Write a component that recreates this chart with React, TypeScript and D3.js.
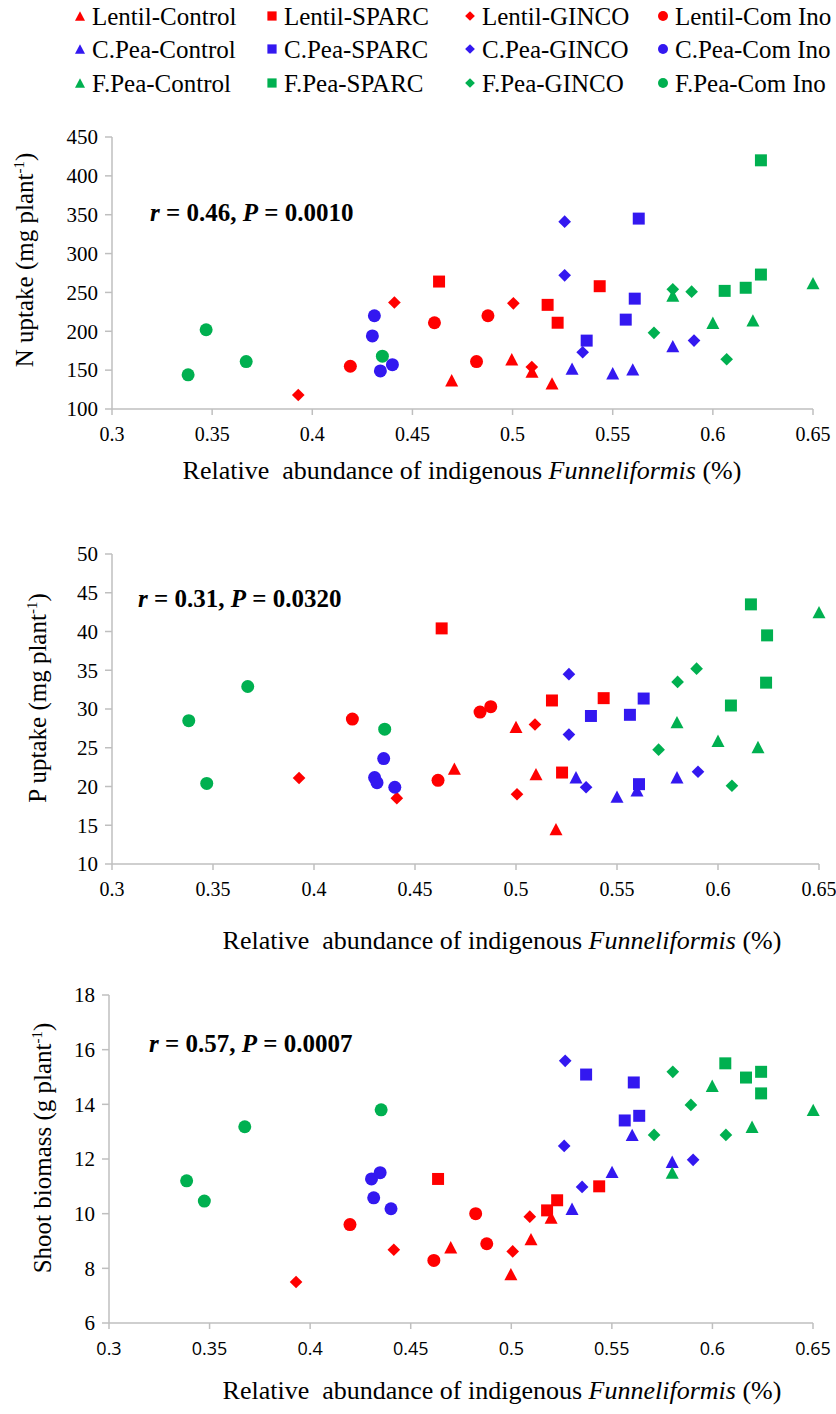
import React from "react";
import * as d3 from "d3";

// ---------- DATA ----------
const SERIES = [
  "Lentil-Control", "Lentil-SPARC", "Lentil-GINCO", "Lentil-Com Ino",
  "C.Pea-Control", "C.Pea-SPARC", "C.Pea-GINCO", "C.Pea-Com Ino",
  "F.Pea-Control", "F.Pea-SPARC", "F.Pea-GINCO", "F.Pea-Com Ino",
];
const CROP_COLORS = { Lentil: "#FF0000", "C.Pea": "#3318F0", "F.Pea": "#00B050" };
const TREATMENT_SHAPES = { Control: "triangle", SPARC: "square", GINCO: "diamond", "Com Ino": "circle" };

const X_TICKS = [0.3, 0.35, 0.4, 0.45, 0.5, 0.55, 0.6, 0.65];
const N_TICKS = [100, 150, 200, 250, 300, 350, 400, 450];
const P_TICKS = [10, 15, 20, 25, 30, 35, 40, 45, 50];
const B_TICKS = [6, 8, 10, 12, 14, 16, 18];

// N uptake (mg plant-1) vs relative abundance
const N_UPTAKE: [number, number][][] = [
  [[0.4696, 137], [0.4996, 164], [0.5097, 148], [0.5197, 133]],
  [[0.4633, 264], [0.5175, 234], [0.5225, 211], [0.5435, 258]],
  [[0.393, 118], [0.441, 237], [0.5004, 236], [0.5096, 154]],
  [[0.419, 155], [0.461, 211], [0.482, 161], [0.4877, 220]],
  [[0.5297, 152], [0.55, 146], [0.56, 151], [0.58, 181]],
  [[0.537, 188], [0.5565, 215], [0.561, 242], [0.563, 345]],
  [[0.526, 341], [0.526, 272], [0.535, 173], [0.5906, 188]],
  [[0.431, 220], [0.43, 194], [0.434, 149], [0.44, 157]],
  [[0.58, 246], [0.6, 211], [0.62, 214], [0.65, 262]],
  [[0.6059, 252], [0.6164, 256], [0.624, 273], [0.624, 420]],
  [[0.5706, 198], [0.58, 254], [0.5894, 251], [0.6069, 164]],
  [[0.338, 144], [0.347, 202], [0.367, 161], [0.435, 168]],
];

// P uptake (mg plant-1)
const P_UPTAKE: [number, number][][] = [
  [[0.4695, 22.3], [0.5, 27.7], [0.5099, 21.6], [0.5198, 14.5]],
  [[0.4632, 40.4], [0.5178, 31.1], [0.5228, 21.8], [0.5434, 31.4]],
  [[0.3926, 21.1], [0.441, 18.5], [0.5005, 19.0], [0.5094, 28.0]],
  [[0.419, 28.7], [0.4614, 20.8], [0.4822, 29.6], [0.4875, 30.3]],
  [[0.5297, 21.2], [0.55, 18.7], [0.5599, 19.5], [0.5797, 21.2]],
  [[0.5371, 29.1], [0.5564, 29.25], [0.5609, 20.3], [0.5632, 31.35]],
  [[0.5262, 34.5], [0.5262, 26.7], [0.5347, 19.9], [0.5901, 21.9]],
  [[0.43, 21.15], [0.4312, 20.5], [0.4345, 23.6], [0.44, 19.9]],
  [[0.5797, 28.3], [0.6, 25.9], [0.6198, 25.1], [0.65, 42.5]],
  [[0.6064, 30.45], [0.6163, 43.5], [0.6238, 33.4], [0.6243, 39.5]],
  [[0.5706, 24.75], [0.58, 33.5], [0.5894, 35.2], [0.6069, 20.1]],
  [[0.338, 28.5], [0.3469, 20.4], [0.3672, 32.9], [0.435, 27.4]],
];

// Shoot biomass (g plant-1)
const SHOOT_BIOMASS: [number, number][][] = [
  [[0.4699, 8.77], [0.4998, 7.79], [0.5098, 9.07], [0.5198, 9.86]],
  [[0.4636, 11.27], [0.5178, 10.12], [0.5228, 10.49], [0.5437, 11.0]],
  [[0.393, 7.5], [0.4416, 8.68], [0.5007, 8.62], [0.5092, 9.89]],
  [[0.4198, 9.6], [0.4615, 8.29], [0.4823, 10.0], [0.4878, 8.9]],
  [[0.5302, 10.18], [0.5501, 11.53], [0.5601, 12.88], [0.58, 11.9]],
  [[0.5372, 15.09], [0.5564, 13.41], [0.5609, 14.8], [0.5636, 13.58]],
  [[0.5268, 15.59], [0.5263, 12.48], [0.5352, 10.98], [0.5904, 11.97]],
  [[0.4305, 11.27], [0.4316, 10.58], [0.4348, 11.5], [0.4402, 10.18]],
  [[0.58, 11.5], [0.5999, 14.68], [0.6197, 13.18], [0.6501, 13.8]],
  [[0.6064, 15.5], [0.6167, 14.98], [0.6242, 15.19], [0.6242, 14.4]],
  [[0.571, 12.88], [0.5803, 15.19], [0.5893, 13.98], [0.6067, 12.88]],
  [[0.3386, 11.2], [0.3474, 10.46], [0.3675, 13.18], [0.4353, 13.8]],
];

const STATS = [
  { r: "0.46", p: "0.0010" },
  { r: "0.31", p: "0.0320" },
  { r: "0.57", p: "0.0007" },
];
const Y_LABELS = [
  ["N uptake (mg plant", "-1", ")"],
  ["P uptake (mg plant", "-1", ")"],
  ["Shoot biomass (g plant", "-1", ")"],
];

// ---------- LAYOUT ----------
const W = 836;
const H = 1414;
const SERIF = "'Liberation Serif', 'Times New Roman', serif";
const SANS = "'Open Sans', 'Liberation Sans', sans-serif";
const AXIS_COLOR = "#BFBFBF";

function seriesColor(name: string) {
  return (CROP_COLORS as any)[name.split("-")[0]];
}
function seriesShape(name: string) {
  return (TREATMENT_SHAPES as any)[name.split("-").slice(1).join("-")];
}

function markerPath(shape: string, s: number) {
  if (shape === "circle") return d3.symbol(d3.symbolCircle, Math.PI * (s / 2) * (s / 2))()!;
  if (shape === "square") return d3.symbol(d3.symbolSquare, s * s * 0.85)()!;
  if (shape === "diamond") return d3.symbol(d3.symbolSquare, (s * s) / 2 * 0.95)()!;
  const h = s * 0.95;
  const p = d3.path();
  p.moveTo(0, -h / 2);
  p.lineTo(s / 2, h / 2);
  p.lineTo(-s / 2, h / 2);
  p.closePath();
  return p.toString();
}

function Marker({ name, x, y, s }: { name: string; x: number; y: number; s: number }) {
  const shape = seriesShape(name);
  const rot = shape === "diamond" ? " rotate(45)" : "";
  return (
    <path d={markerPath(shape, s)} transform={`translate(${x},${y})${rot}`} fill={seriesColor(name)} />
  );
}

type PanelCfg = {
  data: [number, number][][];
  yTicks: number[];
  xRange: [number, number];
  yRange: [number, number];
  xTickFont: string;
  xTickSize: number;
  statPos: [number, number];
  yLabelPos: [number, number];
  xTitlePos: [number, number];
};

const PANELS: PanelCfg[] = [
  { data: N_UPTAKE, yTicks: N_TICKS, xRange: [112, 813], yRange: [409, 137], xTickFont: SERIF, xTickSize: 20, statPos: [150, 221], yLabelPos: [33, 260], xTitlePos: [462, 479] },
  { data: P_UPTAKE, yTicks: P_TICKS, xRange: [112, 819], yRange: [864, 554], xTickFont: SERIF, xTickSize: 20, statPos: [138, 607], yLabelPos: [46, 698], xTitlePos: [502, 949] },
  { data: SHOOT_BIOMASS, yTicks: B_TICKS, xRange: [109, 813], yRange: [1323, 995], xTickFont: SANS, xTickSize: 18, statPos: [149, 1052], yLabelPos: [51, 1148], xTitlePos: [502, 1399] },
];

function Panel({ cfg, idx }: { cfg: PanelCfg; idx: number }) {
  const x = d3.scaleLinear().domain([X_TICKS[0], X_TICKS[X_TICKS.length - 1]]).range(cfg.xRange);
  const y = d3.scaleLinear().domain([cfg.yTicks[0], cfg.yTicks[cfg.yTicks.length - 1]]).range(cfg.yRange);
  const [x0, x1] = cfg.xRange;
  const [yb, yt] = cfg.yRange;
  const lab = Y_LABELS[idx];
  const st = STATS[idx];
  return (
    <g>
      <line x1={x0} x2={x0} y1={yt} y2={yb} stroke={AXIS_COLOR} strokeWidth={1.5} />
      <line x1={x0} x2={x1} y1={yb} y2={yb} stroke={AXIS_COLOR} strokeWidth={1.5} />
      {cfg.yTicks.map((t) => (
        <g key={"y" + t}>
          <line x1={x0 - 7} x2={x0} y1={y(t)} y2={y(t)} stroke={AXIS_COLOR} strokeWidth={1.5} />
          <text x={x0 - 14} y={y(t)} dy="0.35em" textAnchor="end" fontFamily={SERIF} fontSize={21} fill="#000">
            {t}
          </text>
        </g>
      ))}
      {X_TICKS.map((t) => (
        <g key={"x" + t}>
          <line x1={x(t)} x2={x(t)} y1={yb} y2={yb + 6} stroke={AXIS_COLOR} strokeWidth={1.5} />
          <text x={x(t)} y={yb + 32} textAnchor="middle" fontFamily={cfg.xTickFont} fontSize={cfg.xTickSize} fill="#000">
            {String(t)}
          </text>
        </g>
      ))}
      <text
        transform={`translate(${cfg.yLabelPos[0]},${cfg.yLabelPos[1]}) rotate(-90)`}
        textAnchor="middle"
        fontFamily={SERIF}
        fontSize={25}
        fill="#000"
      >
        <tspan>{lab[0]}</tspan>
        <tspan dy={-9} fontSize={15}>{lab[1]}</tspan>
        <tspan dy={9}>{lab[2]}</tspan>
      </text>
      <text x={cfg.xTitlePos[0]} y={cfg.xTitlePos[1]} textAnchor="middle" fontFamily={SERIF} fontSize={26} fill="#000" style={{ whiteSpace: "pre" }}>
        <tspan>{"Relative  abundance of indigenous "}</tspan>
        <tspan fontStyle="italic">Funneliformis</tspan>
        <tspan>{" (%)"}</tspan>
      </text>
      <text x={cfg.statPos[0]} y={cfg.statPos[1]} fontFamily={SERIF} fontSize={25} fontWeight="bold" fill="#000" style={{ whiteSpace: "pre" }}>
        <tspan fontStyle="italic">r</tspan>
        <tspan>{` = ${st.r}, `}</tspan>
        <tspan fontStyle="italic">P</tspan>
        <tspan>{` = ${st.p}`}</tspan>
      </text>
      {cfg.data.map((pts, si) =>
        pts.map((p, pi) => <Marker key={si + "-" + pi} name={SERIES[si]} x={x(p[0])} y={y(p[1])} s={13} />)
      )}
    </g>
  );
}

function Legend() {
  const colX = [80, 272, 470, 663];
  const rowY = [16, 49, 83];
  return (
    <g>
      {SERIES.map((name, i) => {
        const c = i % 4;
        const r = Math.floor(i / 4);
        return (
          <g key={name}>
            <Marker name={name} x={colX[c]} y={rowY[r]} s={10} />
            <text x={colX[c] + 12} y={rowY[r]} dy="0.35em" fontFamily={SERIF} fontSize={25} fill="#000">
              {name}
            </text>
          </g>
        );
      })}
    </g>
  );
}

export default function App() {
  return (
    <svg width={W} height={H} viewBox={`0 0 ${W} ${H}`} style={{ position: "absolute", left: 0, top: 0, background: "#fff" }}>
      <rect width={W} height={H} fill="#fff" />
      <Legend />
      {PANELS.map((p, i) => (
        <Panel key={i} cfg={p} idx={i} />
      ))}
    </svg>
  );
}
